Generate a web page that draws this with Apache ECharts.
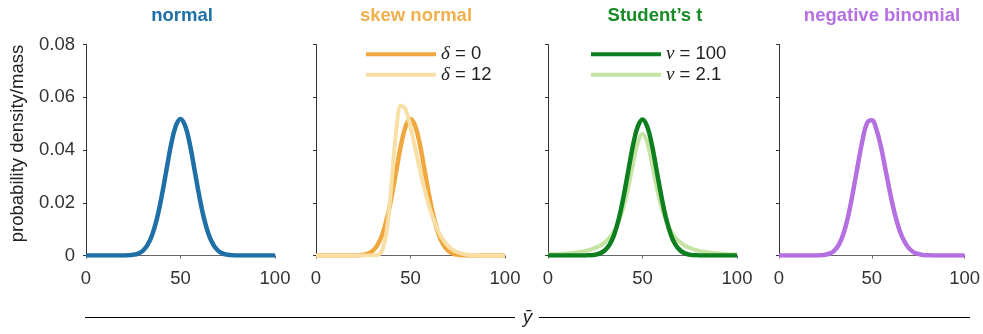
<!DOCTYPE html>
<html>
<head>
<meta charset="utf-8">
<script src="https://cdn.jsdelivr.net/npm/echarts@6/dist/echarts.min.js"></script>
<style>
  html, body { margin: 0; padding: 0; background: #fff; }
  #main { width: 983px; height: 334px; }
</style>
</head>
<body>
<div id="main"></div>
<script>
// x grid shared by every curve
var xs = [0, 2.5, 5, 7.5, 10, 12.5, 15, 17.5, 20, 22.5, 25, 27.5, 30, 32.5, 35, 37.5, 40, 42.5, 45, 47.5,
	50, 52.5, 55, 57.5, 60, 62.5, 65, 67.5, 70, 72.5, 75, 77.5, 80, 82.5, 85, 87.5, 90, 92.5, 95, 97.5, 100];

var normalY = [0, 0, 0, 0, 0, 0, 0, 0, 0.00003, 0.00009, 0.00027, 0.00072, 0.00178, 0.00392, 0.00777, 0.0139, 0.0223, 0.0322, 0.0420, 0.0491,
	0.0518, 0.0491, 0.0420, 0.0322, 0.0223, 0.0139, 0.00777, 0.00392, 0.00178, 0.00072, 0.00027, 0.00009, 0.00003, 0, 0, 0, 0, 0, 0, 0, 0];

var skew0Y = [0, 0, 0, 0, 0, 0, 0, 0, 0.00003, 0.00009, 0.00027, 0.00072, 0.00178, 0.00392, 0.00777, 0.0139, 0.0223, 0.0322, 0.0420, 0.0491,
	0.0518, 0.0491, 0.0420, 0.0322, 0.0223, 0.0139, 0.00777, 0.00392, 0.00178, 0.00072, 0.00027, 0.00009, 0.00003, 0, 0, 0, 0, 0, 0, 0, 0];

var skew12Y = [0, 0, 0, 0, 0, 0, 0, 0, 0, 0, 0, 0, 0.00001, 0.0002, 0.0019, 0.0098, 0.0277, 0.0476, 0.0569, 0.0552,
	0.0487, 0.0406, 0.0325, 0.0249, 0.0183, 0.0130, 0.0088, 0.0057, 0.0035, 0.0021, 0.0012, 0.0007, 0.0003, 0.0002, 0.0001, 0, 0, 0, 0, 0, 0];

var t100Y = [0, 0, 0, 0, 0, 0, 0, 0, 0.00004, 0.0001, 0.0003, 0.0008, 0.0019, 0.0040, 0.0079, 0.0140, 0.0224, 0.0322, 0.0419, 0.0489,
	0.0516, 0.0489, 0.0419, 0.0322, 0.0224, 0.0140, 0.0079, 0.0040, 0.0019, 0.0008, 0.0003, 0.0001, 0.00004, 0, 0, 0, 0, 0, 0, 0, 0];

var t21Y = [0.00041, 0.00048, 0.00056, 0.00066, 0.00079, 0.00095, 0.00115, 0.00141, 0.00176, 0.00223, 0.00286, 0.00373, 0.00497, 0.00674, 0.00932, 0.0131, 0.0185, 0.0259, 0.0348, 0.0428,
	0.0462, 0.0428, 0.0348, 0.0259, 0.0185, 0.0131, 0.00932, 0.00674, 0.00497, 0.00373, 0.00286, 0.00223, 0.00176, 0.00141, 0.00115, 0.00095, 0.00079, 0.00066, 0.00056, 0.00048, 0.00041];

var negbinY = [0, 0, 0, 0, 0, 0, 0, 0, 0.00002, 0.0001, 0.0003, 0.0008, 0.0020, 0.0044, 0.0088, 0.0156, 0.0246, 0.0344, 0.0437, 0.0503,
	0.0513, 0.0478, 0.0410, 0.0322, 0.0233, 0.0155, 0.0095, 0.0054, 0.0028, 0.0013, 0.0006, 0.0002, 0.0001, 0.00003, 0, 0, 0, 0, 0, 0, 0];

var panelTitles = ['normal', 'skew normal', 'Student\u2019s t', 'negative binomial'];
var titleColors = ['#1f70a6', '#f0b04c', '#188a26', '#b46fe0'];
var xTicks = [0, 50, 100];
var yTicks = [0, 0.02, 0.04, 0.06, 0.08];

var FONT = 'Liberation Sans, Arial, Helvetica, sans-serif';
var panelLeft = [86, 316, 548, 779];
var titleCenter = [177, 411, 650, 877];

function pts(ys) {
	return xs.map(function(x, i) { return [x, ys[i]]; });
}

var myChart = echarts.init(document.getElementById('main'));

var grids = [], xAxes = [], yAxes = [], titles = [];
for (var i = 0; i < 4; i++) {
	grids.push({ left: panelLeft[i], top: 44.5, width: 189, height: 211 });
	xAxes.push({
		type: 'value', gridIndex: i, min: xTicks[0], max: xTicks[2], interval: 50,
		axisLine: { lineStyle: { color: '#666', width: 1 } },
		axisTick: { show: true, length: 3, lineStyle: { color: '#666' } },
		axisLabel: { fontSize: 18.5, color: '#333', margin: 14, fontFamily: FONT },
		splitLine: { show: false }
	});
	yAxes.push({
		type: 'value', gridIndex: i, min: yTicks[0], max: yTicks[4], interval: 0.02,
		axisLine: { show: true, lineStyle: { color: '#333', width: 1 } },
		axisTick: { show: true, length: 3, lineStyle: { color: '#333' } },
		axisLabel: { show: i === 0, fontSize: 18.5, color: '#333', margin: 11, fontFamily: FONT },
		splitLine: { show: false }
	});
	titles.push({
		text: panelTitles[i], left: titleCenter[i], top: 1, textAlign: 'center',
		textStyle: { fontSize: 18.5, fontWeight: 'bold', color: titleColors[i], fontFamily: FONT }
	});
}

function curve(name, ys, idx, color, width, z) {
	return {
		name: name, type: 'line', xAxisIndex: idx, yAxisIndex: idx,
		data: pts(ys), symbol: 'none', smooth: 0.4, z: z || 2,
		lineStyle: { color: color, width: width }, itemStyle: { color: color }
	};
}

var greek = {
	g: { fontFamily: 'Liberation Serif, DejaVu Serif, serif', fontStyle: 'italic', fontSize: 19, color: '#222', lineHeight: 20 },
	t: { fontFamily: FONT, fontSize: 18.5, color: '#222', lineHeight: 20 }
};
function legendFmt(name) {
	return '{g|' + name.charAt(0) + '}{t|' + name.slice(1) + '}';
}

var option = {
	animation: false,
	title: titles,
	grid: grids,
	xAxis: xAxes,
	yAxis: yAxes,
	legend: [{
		data: ['\u03b4 = 0', '\u03b4 = 12'], orient: 'vertical', left: 361, top: 39.7,
		itemWidth: 70, itemHeight: 4, itemGap: 1.6, icon: 'rect',
		formatter: legendFmt, textStyle: { rich: greek }
	}, {
		data: ['\u03bd = 100', '\u03bd = 2.1'], orient: 'vertical', left: 586, top: 39.7,
		itemWidth: 70, itemHeight: 4, itemGap: 1.6, icon: 'rect',
		formatter: legendFmt, textStyle: { rich: greek }
	}],
	series: [
		curve('normal', normalY, 0, '#1f70a6', 4.5),
		curve('\u03b4 = 0', skew0Y, 1, '#f0a83e', 4.5),
		curve('\u03b4 = 12', skew12Y, 1, '#f8dfa5', 4, 3),
		curve('\u03bd = 100', t100Y, 2, '#0e7f1f', 4.5, 3),
		curve('\u03bd = 2.1', t21Y, 2, '#c5e4a3', 4),
		curve('negative binomial', negbinY, 3, '#b46fe0', 4.5)
	],
	graphic: [{
		type: 'text', x: 18, y: 143.5, rotation: Math.PI / 2,
		style: { text: 'probability density/mass', fontSize: 18.5, fill: '#222', fontFamily: FONT, align: 'center', verticalAlign: 'middle' }
	}, {
		type: 'line', shape: { x1: 85, y1: 317.5, x2: 515, y2: 317.5 },
		style: { stroke: '#000', lineWidth: 1 }
	}, {
		type: 'line', shape: { x1: 539, y1: 317.5, x2: 970, y2: 317.5 },
		style: { stroke: '#000', lineWidth: 1 }
	}, {
		type: 'text', x: 527.5, y: 318,
		style: { text: '\u0233', fontSize: 19, fontStyle: 'italic', fill: '#222', fontFamily: FONT, align: 'center', verticalAlign: 'middle' }
	}]
};
myChart.setOption(option);

window.onresize = function() {
	myChart.resize();
};
</script>
</body>
</html>
